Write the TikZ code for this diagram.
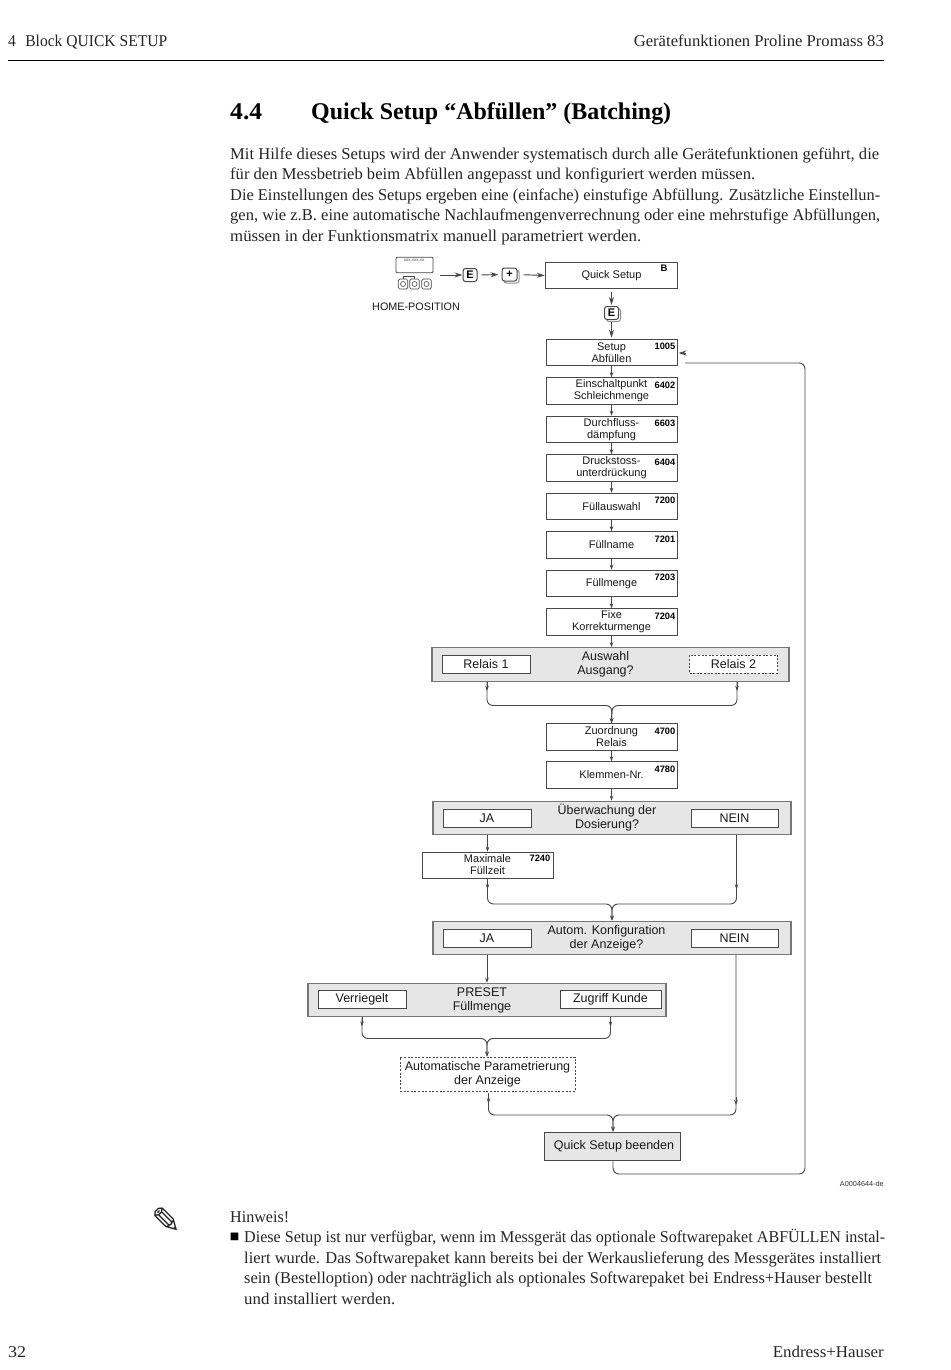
\documentclass[tikz,border=0pt]{standalone}
\usepackage{fontspec}
\usepackage{graphicx}
\setmainfont{Liberation Serif}
\newfontfamily\arialf{Liberation Sans}
\newfontfamily\djv{DejaVu Sans}
\usetikzlibrary{arrows.meta,shadows}
\definecolor{lin}{HTML}{484848}
\definecolor{panel}{HTML}{E6E6E6}
\tikzset{
  x=1pt,y=-1pt,
  txt/.style={inner sep=0pt,anchor=base west,text=black!85,font=\fontsize{16.5}{18}\selectfont},
  ttl/.style={inner sep=0pt,anchor=base west,text=black,font=\fontsize{24}{26}\bfseries\selectfont},
  box/.style={draw=lin,line width=1pt,fill=white,minimum width=131pt,minimum height=26.5pt,inner sep=0pt,align=center,text=black!90,font=\arialf\fontsize{11}{12}\selectfont},
  num/.style={inner sep=0pt,anchor=north east,text=black,font=\arialf\bfseries\fontsize{9.3}{10}\selectfont},
  panelbox/.style={draw=lin!75,line width=1.2pt,fill=panel,inner sep=0pt},
  choice/.style={draw=lin,line width=1pt,fill=white,inner sep=0pt,minimum height=18pt,text=black!90,font=\arialf\fontsize{12.5}{14}\selectfont},
  dashbox/.style={draw=lin,line width=.8pt,dash pattern=on 2pt off 1.6pt,fill=white,inner sep=0pt,align=center,text=black!90,font=\arialf\fontsize{12.5}{14}\selectfont},
  ptext/.style={inner sep=0pt,align=center,text=black!90,font=\arialf\fontsize{12.5}{14}\selectfont},
  conn/.style={draw=lin,line width=.95pt,rounded corners=6pt},
  arr/.style={conn,-{Stealth[length=5pt,width=3.6pt]}},
  bigarr/.style={conn,-{Stealth[length=8pt,width=5pt]}},
  keyb/.style={draw=lin,line width=1pt,fill=white,rounded corners=2.5pt,inner sep=0pt,minimum width=14pt,minimum height=13pt,font=\arialf\bfseries\fontsize{11}{12}\selectfont},
  keyshadow/.style={copy shadow={shadow xshift=2pt,shadow yshift=-2pt,draw=lin!60,fill=white}},
}
\newcommand{\tline}[5]{\node[txt] (#1) at (#2,#3) {\resizebox{#4pt}{\height}{#5}};}
\newcommand{\fbx}[4]{\node[box] (#1) at (611.5,#2) {#3};\node[num] (#1n) at ([xshift=-2pt,yshift=-4.5pt]#1.north east) {#4};}
\begin{document}
\begin{tikzpicture}
\useasboundingbox (0,0) rectangle (950,1370);
\fill[white] (0,0) rectangle (950,1370);
% page furniture
\tline{h1}{8}{47}{159}{4\hspace{.6em}Block QUICK SETUP}
\node[txt,anchor=base east] (h2) at (884,47) {\resizebox{250pt}{\height}{Gerätefunktionen Proline Promass 83}};
\coordinate (ruleL) at (8,60.5); \coordinate (ruleR) at (884,60.5);
\draw[line width=1.1pt,black] (ruleL) -- (ruleR);
\node[ttl] (t1) at (230,120) {\resizebox{32pt}{\height}{4.4}};
\node[ttl] (t2) at (311,120) {\resizebox{360pt}{\height}{Quick Setup “Abfüllen” (Batching)}};
\tline{b1}{230}{159}{649}{Mit Hilfe dieses Setups wird der Anwender systematisch durch alle Gerätefunktionen geführt, die}
\tline{b2}{230}{179.5}{525}{für den Messbetrieb beim Abfüllen angepasst und konfiguriert werden müssen.}
\tline{b3}{230}{200}{650}{Die Einstellungen des Setups ergeben eine (einfache) einstufige Abfüllung. Zusätzliche Einstellun-}
\tline{b4}{230}{220.5}{650}{gen, wie z.B. eine automatische Nachlaufmengenverrechnung oder eine mehrstufige Abfüllungen,}
\tline{b5}{230}{241}{411}{müssen in der Funktionsmatrix manuell parametriert werden.}
\node[inner sep=0pt,text=black!85,font=\djv\fontsize{36}{36}\selectfont] (pencil) at (167,1221) {✎};
\tline{n0}{230}{1222}{59}{Hinweis!}
\node[inner sep=0pt,text=black,font=\djv\fontsize{10}{10}\selectfont] (bul) at (234.5,1237) {■};
\tline{n1}{244}{1242.5}{641}{Diese Setup ist nur verfügbar, wenn im Messgerät das optionale Softwarepaket ABFÜLLEN instal-}
\tline{n2}{244}{1263}{637}{liert wurde. Das Softwarepaket kann bereits bei der Werkauslieferung des Messgerätes installiert}
\tline{n3}{244}{1283}{628}{sein (Bestelloption) oder nachträglich als optionales Softwarepaket bei Endress+Hauser bestellt}
\tline{n4}{244}{1304}{151}{und installiert werden.}
\tline{f1}{8}{1357}{18}{32}
\node[txt,anchor=base east] (f2) at (884,1357) {\resizebox{111pt}{\height}{Endress+Hauser}};
\node[inner sep=0pt,anchor=east,text=black!80,font=\arialf\fontsize{7.3}{8}\selectfont] (code) at (884,1183.5) {A0004644-de};
% home position icon
\node[draw=lin,line width=.8pt,rounded corners=1pt,minimum width=37pt,minimum height=15.5pt,inner sep=0pt] (disp) at (414.5,265) {};
\node[inner sep=0pt,text=black!70,font=\arialf\fontsize{4.5}{5}\selectfont] (disptxt) at (414,260.5) {xxx.xxx.xx};
\foreach \kx/\kn in {403/k1,414.5/k2,426.5/k3}{
  \node[draw=lin,line width=.7pt,rounded corners=1.5pt,minimum width=9.5pt,minimum height=10pt,inner sep=0pt] (\kn) at (\kx,284) {};
  \node[draw=lin,line width=.6pt,circle,minimum size=5pt,inner sep=0pt] at (\kx,284) {};
}
\draw[lin,line width=.6pt] (k1.north) -- ++(0,-2.5) -- ++(11.5,0) -- (k2.north);
\node[inner sep=0pt,text=black!90,font=\arialf\fontsize{10.8}{12}\selectfont] (homepos) at (416,307) {HOME-POSITION};
\coordinate (homeout) at (440,275);
\node[keyb] (ke1) at (470,275) {E};
\node[keyb,keyshadow,minimum width=15pt] (kp) at (509.5,274.5) {+};
\node[box,minimum width=131.5pt] (qs) at (611.5,275.5) {Quick Setup};
\node[num,font=\arialf\bfseries\fontsize{9.5}{10}\selectfont] (qsn) at ([xshift=-10pt,yshift=-3pt]qs.north east) {B};
\node[keyb,keyshadow] (ke2) at (611.5,313) {E};
% main column
\fbx{s1}{352.5}{Setup\\Abfüllen}{1005}
\fbx{s2}{391}{Einschaltpunkt\\Schleichmenge}{6402}
\fbx{s3}{429.5}{Durchfluss-\\dämpfung}{6603}
\fbx{s4}{468}{Druckstoss-\\unterdrückung}{6404}
\fbx{s5}{506.5}{\raisebox{-.7pt}{Füllauswahl}}{7200}
\fbx{s6}{545}{\raisebox{-.7pt}{Füllname}}{7201}
\fbx{s7}{583.5}{Füllmenge}{7203}
\fbx{s8}{622}{Fixe\\Korrekturmenge}{7204}
% Auswahl panel
\node[panelbox,minimum width=357pt,minimum height=33.5pt] (pa) at (610.5,664.5) {};
\node[ptext] (pat) at (605.5,664) {Auswahl\\Ausgang?};
\node[choice,minimum width=88pt] (r1) at (486,664) {Relais 1};
\node[dashbox,minimum width=88pt,minimum height=18pt] (r2) at (733.5,664) {Relais 2};
\coordinate (d1) at (487,705.5);
\coordinate (d2) at (737,705.5);
\coordinate (m1) at (612,705.5);
\fbx{s9}{737}{\raisebox{.8pt}{Zuordnung}\\\raisebox{.8pt}{Relais}}{4700}
\fbx{s10}{775}{Klemmen-Nr.}{4780}
% Ueberwachung panel
\node[panelbox,minimum width=358pt,minimum height=33.5pt] (pu) at (612,818) {};
\node[ptext] (put) at (607,818) {Überwachung der\\Dosierung?};
\node[choice,minimum width=88pt] (u1) at (487,818) {JA};
\node[choice,minimum width=87pt] (u2) at (734.5,818) {NEIN};
\node[box] (mf) at (487.5,865.5) {\raisebox{1.5pt}{Maximale}\\\raisebox{1.5pt}{Füllzeit}};
\node[num] (mfn) at ([xshift=-3pt,yshift=-3.5pt]mf.north east) {7240};
\coordinate (m2) at (612,904);
% Autom panel
\node[panelbox,minimum width=358pt,minimum height=33.5pt] (pk) at (612,938) {};
\node[ptext] (pkt) at (606.5,938) {Autom. Konfiguration\\der Anzeige?};
\node[choice,minimum width=88pt] (a1) at (487,938) {JA};
\node[choice,minimum width=87pt] (a2) at (734.5,938) {NEIN};
% Preset panel
\node[panelbox,minimum width=358pt,minimum height=33.5pt] (pp) at (487,1000) {};
\node[ptext] (ppt) at (482,1000) {PRESET\\Füllmenge};
\node[choice,minimum width=88pt] (v1) at (362,999.5) {\raisebox{-1.2pt}{Verriegelt}};
\node[choice,minimum width=101pt] (v2) at (610.5,999.5) {\raisebox{-1.2pt}{Zugriff Kunde}};
\coordinate (m3) at (487,1038.5);
\node[dashbox,minimum width=175pt,minimum height=34pt] (ap) at (487.5,1074) {Automatische Parametrierung\\der Anzeige};
\coordinate (m4) at (613,1115);
\node[draw=lin,line width=1pt,fill=panel,minimum width=136pt,minimum height=28.5pt,inner sep=0pt,text=black!90,font=\arialf\fontsize{12.5}{14}\selectfont] (qe) at (612,1146.5) {\hspace*{4pt}Quick Setup beenden};
% connectors
\draw[bigarr] (homeout) -- (ke1.west);
\draw[bigarr,shorten <=4pt,shorten >=3pt] (ke1.east) -- (kp.west);
\draw[bigarr,shorten <=6pt,shorten >=.5pt] (kp.east) -- (qs.west);
\draw[bigarr,shorten <=2.5pt,shorten >=1pt] (qs.south) -- (ke2.north);
\draw[bigarr,shorten <=2pt,shorten >=1pt] (ke2.south) -- (s1.north);
\foreach \a/\b in {s1/s2,s2/s3,s3/s4,s4/s5,s5/s6,s6/s7,s7/s8,s8/pa,s9/s10,s10/pu}{
  \draw[arr] (\a.south) -- (\b.north -| \a.south);
}
% Auswahl merge
\draw[arr] (d1 |- pa.south) -- +(0,9);
\draw[arr] (d2 |- pa.south) -- +(0,9);
\draw[arr] (d1 |- pa.south) -- (d1) -- (m1) -- (s9.north);
\draw[arr] (d2 |- pa.south) -- (d2) -- (m1) -- (s9.north);
% Ueberwachung merge
\draw[arr] (mf.north |- pu.south) -- (mf.north);
\draw[arr] (mf.south) -- +(0,10);
\draw[arr] (u2 |- pu.south) ++(2,0) -- +(0,54);
\draw[arr] (mf.south) -- (mf.south |- m2) -- (m2) -- (pk.north);
\draw[arr] (736.5,835) -- (736.5,904) -- (m2) -- (pk.north);
% Autom to preset
\draw[arr] (pp.north |- pk.south) -- (pp.north);
% Preset merge
\draw[arr] (v1 |- pp.south) -- +(0,9);
\draw[arr] (v2 |- pp.south) -- +(0,9);
\draw[arr] (v1 |- pp.south) -- (v1 |- m3) -- (m3) -- (ap.north -| m3);
\draw[arr] (v2 |- pp.south) -- (v2 |- m3) -- (m3) -- (ap.north -| m3);
% End merge
\draw[arr] (ap.south) ++(1,2) -- +(0,10);
\draw[arr] (736,1097) -- +(0,8);
\draw[arr] (488.5,1093) -- (488.5,1115) -- (m4) -- (qe.north -| m4);
\draw[arr] (736,955) -- (736,1115) -- (m4) -- (qe.north -| m4);
% loop back
\coordinate (backend) at (685,363);
\coordinate (backtip) at (678.5,353);
\draw[conn] (qe.south -| m4) -- (613,1174) -- (805,1174) -- (805,363) -- (backend);
\draw[bigarr] ([xshift=7pt]backtip) -- (backtip);
\end{tikzpicture}
\end{document}
